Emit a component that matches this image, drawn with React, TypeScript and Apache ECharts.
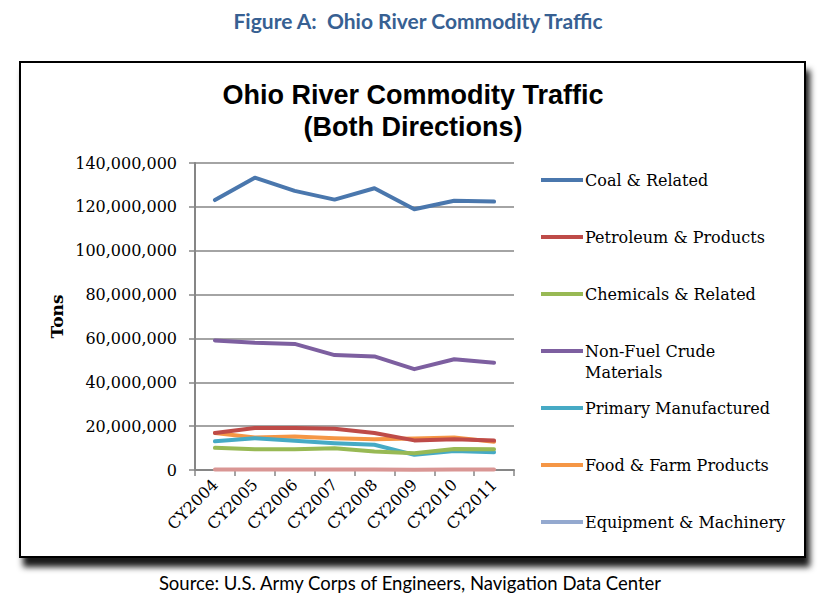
import React, { useEffect, useRef } from "react";
import * as echarts from "echarts";

const categories = ["CY2004", "CY2005", "CY2006", "CY2007", "CY2008", "CY2009", "CY2010", "CY2011"];

const coal = [123100000, 133300000, 127300000, 123300000, 128500000, 118900000, 122800000, 122400000];
const petroleum = [16900000, 19200000, 19100000, 18800000, 16900000, 13500000, 14000000, 13400000];
const chemicals = [10100000, 9500000, 9500000, 9900000, 8400000, 7600000, 9600000, 9500000];
const nonFuel = [59100000, 58000000, 57500000, 52400000, 51800000, 46000000, 50500000, 48900000];
const primary = [13100000, 14500000, 13300000, 12200000, 11500000, 6900000, 8700000, 8100000];
const food = [16900000, 14800000, 15300000, 14500000, 14000000, 14400000, 14800000, 12900000];
const equipment = [250000, 230000, 220000, 210000, 200000, 150000, 180000, 190000];

const seriesNames = [
  "Coal & Related",
  "Petroleum & Products",
  "Chemicals & Related",
  "Non-Fuel Crude",
  "Primary Manufactured",
  "Food & Farm Products",
  "Equipment & Machinery",
];
const seriesData = [coal, petroleum, chemicals, nonFuel, primary, food, equipment];
const seriesColors = ["#4A77AD", "#BE4B48", "#98B954", "#7D5FA0", "#46AAC5", "#F59645", "#D99694"];
const legendColors = ["#4A77AD", "#BE4B48", "#98B954", "#7D5FA0", "#46AAC5", "#F59645", "#94A9CF"];

const yTicks = { min: 0, max: 140000000, interval: 20000000 };

export default function App() {
  const ref = useRef<HTMLDivElement>(null);
  useEffect(() => {
    document.body.style.margin = "0";
    const chart = echarts.init(ref.current!, null, { renderer: "svg" });
    const serif = "DejaVu Serif";
    chart.setOption({
      animation: false,
      backgroundColor: "#ffffff",
      graphic: [
        {
          type: "rect",
          z: -10,
          shape: { x: 20, y: 62, width: 785, height: 495 },
          style: {
            fill: "#ffffff",
            stroke: "#000000",
            lineWidth: 2,
            shadowColor: "rgba(0,0,0,0.9)",
            shadowBlur: 6,
            shadowOffsetX: 4,
            shadowOffsetY: 9,
          },
        },
        {
          type: "text",
          x: 418,
          y: 20,
          style: {
            text: "Figure A:  Ohio River Commodity Traffic",
            font: "bold 21px Lato",
            fill: "#376092",
            textAlign: "center",
            textVerticalAlign: "middle",
          },
        },
        {
          type: "text",
          x: 413,
          y: 111,
          style: {
            text: "Ohio River Commodity Traffic\n(Both Directions)",
            font: "bold 27px 'Liberation Sans'",
            fill: "#000000",
            textAlign: "center",
            textVerticalAlign: "middle",
            lineHeight: 32,
          },
        },
        {
          type: "text",
          x: 410,
          y: 583,
          style: {
            text: "Source: U.S. Army Corps of Engineers, Navigation Data Center",
            font: "18.5px Lato",
            fill: "#000000",
            textAlign: "center",
            textVerticalAlign: "middle",
          },
        },
        {
          type: "text",
          x: 585,
          y: 372,
          style: {
            text: "Materials",
            font: "16px 'DejaVu Serif'",
            fill: "#000000",
            textAlign: "left",
            textVerticalAlign: "middle",
          },
        },
      ],
      legend: {
        orient: "vertical",
        left: 541,
        top: 172,
        padding: 0,
        itemWidth: 42,
        itemHeight: 4,
        itemGap: 41,
        icon: "rect",
        textStyle: { fontFamily: serif, fontSize: 16, color: "#000000", padding: [0, 0, 0, -3] },
        data: seriesNames.map((n, i) => ({ name: n, itemStyle: { color: legendColors[i] } })),
      },
      grid: { left: 195, right: 306, top: 163, bottom: 134 },
      xAxis: {
        type: "category",
        data: categories,
        boundaryGap: true,
        axisLine: { lineStyle: { color: "#868686", width: 2 } },
        axisTick: { show: true, length: 6, lineStyle: { color: "#868686", width: 1.5 } },
        axisLabel: { rotate: 45, fontFamily: serif, fontSize: 16, color: "#000000", margin: 12 },
      },
      yAxis: {
        type: "value",
        min: yTicks.min,
        max: yTicks.max,
        interval: yTicks.interval,
        name: "Tons",
        nameLocation: "middle",
        nameGap: 130,
        nameTextStyle: { fontFamily: serif, fontSize: 17, fontWeight: "bold", color: "#000000" },
        axisLine: { show: true, lineStyle: { color: "#868686", width: 2 } },
        axisTick: { show: true, length: 6, lineStyle: { color: "#868686", width: 1.5 } },
        splitLine: { show: true, lineStyle: { color: "#868686", width: 1.5 } },
        axisLabel: {
          fontFamily: serif,
          fontSize: 16,
          color: "#000000",
          margin: 18,
          formatter: (v: number) => v.toLocaleString("en-US"),
        },
      },
      series: seriesNames.map((n, i) => ({
        name: n,
        type: "line",
        data: seriesData[i],
        showSymbol: false,
        symbol: "none",
        color: seriesColors[i],
        lineStyle: { width: 4, color: seriesColors[i], cap: "round", join: "round" },
        z: 10 - i,
      })),
    });
    return () => chart.dispose();
  }, []);
  return <div ref={ref} style={{ width: 820, height: 604 }} />;
}
